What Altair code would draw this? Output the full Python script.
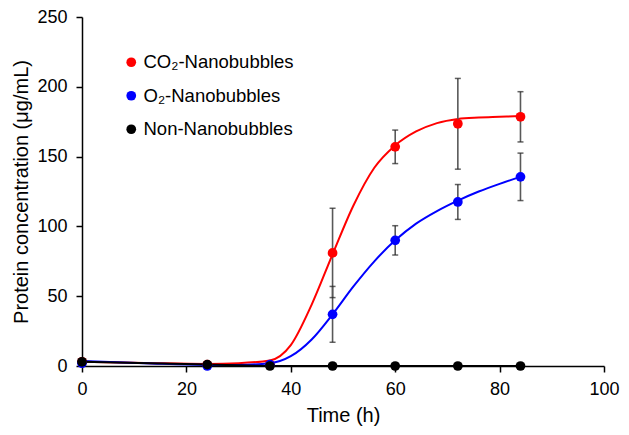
import altair as alt
import pandas as pd

times = [0, 24, 36, 48, 60, 72, 84]
series_names = ["CO₂-Nanobubbles", "O₂-Nanobubbles", "Non-Nanobubbles"]
co2_mean = [3, 1, 1, 81, 157, 173.5, 178.5]
co2_err = [0, 0, 0, 32, 12, 32.5, 18]
o2_mean = [2, 0, 1, 37, 90, 117.5, 135.5]
o2_err = [0, 0, 0, 20, 10.5, 12.5, 17]
non_mean = [3, 1, 0, 0, 0, 0, 0]
non_err = [0, 0, 0, 0, 0, 0, 0]

# fitted curves
fit_t = [0, 12, 24, 30, 36, 40, 44, 48, 52, 56, 60, 64, 68, 72, 76, 80, 84]
co2_fit = [3, 2.2, 1.5, 2, 4, 15, 44, 80, 115, 142, 158, 168, 174, 177, 178, 178.5, 179]
o2_fit = [3.5, 2, 0.8, 0.8, 2, 7, 19, 37, 57, 75, 90, 102, 111, 118.5, 125, 130.5, 135.5]

colors = ["#FF0000", "#0000FF", "#000000"]

rows = []
for i, (name, m, e) in enumerate(zip(series_names, [co2_mean, o2_mean, non_mean], [co2_err, o2_err, non_err])):
    for t, v, er in zip(times, m, e):
        rows.append({"series": name, "t": t, "v": v, "lo": v - er, "hi": v + er, "err": er, "ord": i})
pts = pd.DataFrame(rows)
errs = pts[pts["err"] > 0]

fit_rows = []
for name, f in zip(series_names[:2], [co2_fit, o2_fit]):
    for t, v in zip(fit_t, f):
        fit_rows.append({"series": name, "t": t, "v": v})
fits = pd.DataFrame(fit_rows)
non_line = pts[pts["series"] == "Non-Nanobubbles"]

color_scale = alt.Scale(domain=series_names, range=colors)
xs = alt.Scale(domain=[0, 100], nice=False)
ys = alt.Scale(domain=[0, 250], nice=False)

x_axis = alt.Axis(values=[0, 20, 40, 60, 80, 100], title="Time (h)", grid=False,
                  tickSize=6, labelPadding=8, titlePadding=7, labelFlush=False)
y_axis = alt.Axis(values=[0, 50, 100, 150, 200, 250], title="Protein concentration (μg/mL)",
                  grid=False, tickSize=6, labelPadding=9, titlePadding=5, labelFlush=False)

lines = alt.Chart(fits).mark_line(interpolate="monotone", strokeWidth=2).encode(
    x=alt.X("t:Q", scale=xs, axis=x_axis),
    y=alt.Y("v:Q", scale=ys, axis=y_axis),
    color=alt.Color("series:N", scale=color_scale, legend=None),
    detail="series:N",
)

nonl = alt.Chart(non_line).mark_line(strokeWidth=2, color="#000000").encode(
    x=alt.X("t:Q", scale=xs), y=alt.Y("v:Q", scale=ys)
)

bars = alt.Chart(errs).mark_rule(color="#595959", strokeWidth=1.6).encode(
    x=alt.X("t:Q", scale=xs), y=alt.Y("lo:Q", scale=ys), y2="hi:Q"
)
caps_hi = alt.Chart(errs).mark_tick(color="#222222", orient="horizontal", size=6, thickness=1.5).encode(
    x=alt.X("t:Q", scale=xs), y=alt.Y("hi:Q", scale=ys)
)
caps_lo = alt.Chart(errs).mark_tick(color="#222222", orient="horizontal", size=6, thickness=1.5).encode(
    x=alt.X("t:Q", scale=xs), y=alt.Y("lo:Q", scale=ys)
)

points = alt.Chart(pts).mark_point(filled=True, shape="circle", size=95, opacity=1).encode(
    x=alt.X("t:Q", scale=xs),
    y=alt.Y("v:Q", scale=ys),
    color=alt.Color("series:N", scale=color_scale, sort=series_names,
                    legend=alt.Legend(title=None, orient="none", legendX=40, legendY=36,
                                      symbolType="circle", symbolSize=95, labelFontSize=18.5,
                                      rowPadding=14.5, labelOffset=3, symbolStrokeWidth=0)),
    order=alt.Order("ord:Q"),
)

chart = alt.layer(lines, nonl, bars, caps_hi, caps_lo, points).resolve_legend(
    color="independent"
).properties(
    width=522, height=349,
    autosize=alt.AutoSizeParams(type="none"),
    padding={"left": 74, "top": 9, "right": 17, "bottom": 61},
).configure_view(stroke=None).configure_axis(
    domainColor="#000000", domainWidth=1.5, tickColor="#000000", tickWidth=1.5,
    labelFont="Liberation Sans", titleFont="Liberation Sans", labelFontSize=18,
    titleFontSize=20, titleFontWeight="normal", labelColor="#000000", titleColor="#000000",
).configure_legend(labelFont="Liberation Sans", labelColor="#000000")

chart.save("out.html", embed_options={"renderer": "svg", "actions": False})
